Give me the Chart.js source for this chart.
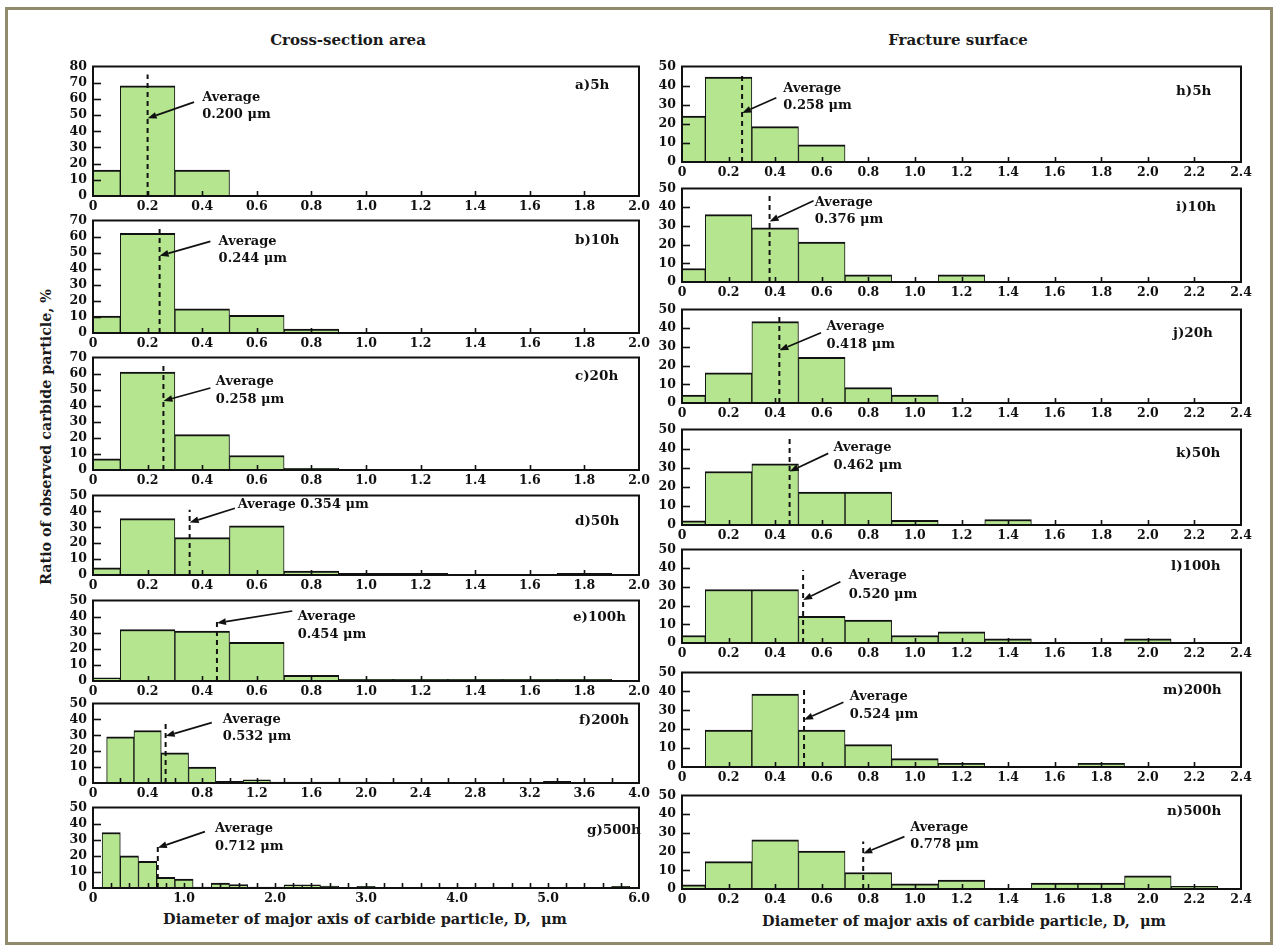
<!DOCTYPE html>
<html>
<head>
<meta charset="utf-8">
<title>Carbide particle size distributions</title>
<script src="https://cdn.jsdelivr.net/npm/chart.js@4.4.1/dist/chart.umd.min.js"></script>
<style>
  html, body { margin: 0; padding: 0; background: #fff; }
  #fig { position: relative; width: 1278px; height: 949px; overflow: hidden; background: #fff; }
  #frame { position: absolute; left: 5px; top: 7px; width: 1262px; height: 932px; border: 3px solid #8f8b6c; }
  .txt { position: absolute; font-family: 'DejaVu Serif', 'Liberation Serif', serif; font-weight: bold; color: #1a1a1a; white-space: nowrap; }
  canvas { position: absolute; }
</style>
</head>
<body>
<div id="fig">
  <div id="frame"></div>
  <div class="txt" style="left:348px; top:40px; font-size:15px; transform:translate(-50%,-50%);">Cross-section area</div>
  <div class="txt" style="left:958px; top:40px; font-size:15px; transform:translate(-50%,-50%);">Fracture surface</div>
  <div class="txt" style="left:365px; top:918px; font-size:14.5px; transform:translate(-50%,-50%);">Diameter of major axis of carbide particle, D,&nbsp; μm</div>
  <div class="txt" style="left:964px; top:920px; font-size:14.5px; transform:translate(-50%,-50%);">Diameter of major axis of carbide particle, D,&nbsp; μm</div>
  <div class="txt" style="left:46px; top:437px; font-size:14.3px; transform:translate(-50%,-50%) rotate(-90deg);">Ratio of observed carbide particle, %</div>
</div>
<script>
// Histogram bins: the first bin covers 0–0.1 µm, every later bin is 0.2 µm wide
// and centred on 0.2, 0.4, 0.6 ... µm. Values are percentages of particles.

// Cross-section area
const cross5h   = [16, 68, 16];
const cross10h  = [10.5, 62, 15, 11, 2.5];
const cross20h  = [7, 61, 22, 9, 1];
const cross50h  = [4.5, 35.5, 23.5, 31, 2.5, 1, 1, 0, 0, 1];
const cross100h = [2, 32, 31, 24, 3.5, 1, 1, 1, 1, 1];
const cross200h = [0, 29, 33, 19, 10, 1, 2, 0.6, 0.6, 0.6, 0.6, 0, 0, 0, 0, 0, 0, 1];
const cross500h = [0, 34.5, 20, 16.5, 6.6, 5.6, 0.6, 3, 2.2, 0.6, 0.6, 2, 2, 1.2, 0, 1,
                   0, 0, 0, 0, 0, 0, 0, 0, 0, 0, 0, 0, 0, 1];

// Fracture surface
const fract5h   = [24, 44.5, 18.5, 9];
const fract10h  = [7.2, 36, 29, 21.4, 3.8, 0, 3.8];
const fract20h  = [4.3, 16.2, 43.5, 24.4, 8.2, 4.3];
const fract50h  = [2.2, 28, 32, 17.3, 17.3, 2.5, 0, 2.9];
const fract100h = [4, 28.6, 28.6, 14.3, 12.2, 4, 6, 2.2, 0, 0, 2.2];
const fract200h = [0, 19.5, 38.6, 19.5, 11.8, 4.4, 2, 0, 0, 2];
const fract500h = [2.2, 14.6, 26.3, 20.3, 8.8, 2.7, 4.8, 0, 3.1, 3.1, 7, 1.4];

// Average major-axis diameters, µm
const crossAverages = [0.200, 0.244, 0.258, 0.354, 0.454, 0.532, 0.712];
const fractAverages = [0.258, 0.376, 0.418, 0.462, 0.520, 0.524, 0.778];

const crossLabels = ['a)5h', 'b)10h', 'c)20h', 'd)50h', 'e)100h', 'f)200h', 'g)500h'];
const fractLabels = ['h)5h', 'i)10h', 'j)20h', 'k)50h', 'l)100h', 'm)200h', 'n)500h'];

// ---- layout and styling -------------------------------------------------
const SERIF = "'DejaVu Serif', 'Liberation Serif', serif";
const INK = '#111111';
const FILL = '#b5e68f';
const PL = 40, PT = 10, PR = 20, PB = 22;

// plot boxes in page pixels, axis ranges, label offsets
const crossBoxes = [
  { y: 63,  h: 133, yMax: 80, xMax: 2, tag: [482, 19] },
  { y: 217, h: 116, yMax: 70, xMax: 2, tag: [482, 20] },
  { y: 354, h: 116, yMax: 70, xMax: 2, tag: [482, 19] },
  { y: 492, h: 83,  yMax: 50, xMax: 2, tag: [482, 26] },
  { y: 597, h: 84,  yMax: 50, xMax: 2, tag: [480, 17] },
  { y: 700, h: 83,  yMax: 50, xMax: 4, tag: [486, 17] },
  { y: 804, h: 84,  yMax: 50, xMax: 6, tag: [494, 23] }
];
const fractBoxes = [
  { y: 63,  h: 99, yMax: 50, xMax: 2.4, tag: [494, 25] },
  { y: 185, h: 97, yMax: 50, xMax: 2.4, tag: [494, 19] },
  { y: 306, h: 97, yMax: 50, xMax: 2.4, tag: [491, 24] },
  { y: 426, h: 99, yMax: 50, xMax: 2.4, tag: [494, 24] },
  { y: 546, h: 97, yMax: 50, xMax: 2.4, tag: [489, 17] },
  { y: 669, h: 98, yMax: 50, xMax: 2.4, tag: [481, 18] },
  { y: 792, h: 97, yMax: 50, xMax: 2.4, tag: [485, 16] }
];

// "Average" callouts, in axis units: text x, first/second line y,
// arrow tail, arrow head height, top of the dashed marker
const crossNotes = [
  { tx: 0.40, ty: [61, 50], from: [0.37, 58], toY: 48, top: 75 },
  { tx: 0.46, ty: [57, 46], from: [0.43, 57], toY: 48, top: 66 },
  { tx: 0.45, ty: [55, 44], from: [0.43, 51], toY: 43, top: 67 },
  { tx: 0.53, ty: [44],     from: [0.52, 42], toY: 33, top: 41 },
  { tx: 0.75, ty: [40, 29], from: [0.73, 43.5], toY: 36, top: 38 },
  { tx: 0.95, ty: [40, 29], from: [0.87, 38], toY: 29.5, top: 39 },
  { tx: 1.34, ty: [37, 26], from: [1.23, 35], toY: 25, top: 27.5 }
];
const fractNotes = [
  { tx: 0.435, ty: [38.6, 29.4], from: [0.405, 33.6], toY: 25.7, top: 47 },
  { tx: 0.57,  ty: [42.7, 33.5], from: [0.565, 43.5], toY: 32.4, top: 47 },
  { tx: 0.62,  ty: [41, 31],     from: [0.597, 37.6], toY: 28.2, top: 48 },
  { tx: 0.65,  ty: [40.4, 31],   from: [0.628, 37.5], toY: 28,   top: 47 },
  { tx: 0.716, ty: [36, 26],     from: [0.68, 32.8],  toY: 23,   top: 39 },
  { tx: 0.72,  ty: [37.4, 27.8], from: [0.693, 34.3], toY: 25,   top: 41.5 },
  { tx: 0.98,  ty: [33, 23.6],   from: [0.955, 28],   toY: 19,   top: 25.4 }
];

function tickText(xMax) {
  return function (value) {
    const tenth = Math.round(value * 10);
    if (tenth === 0) return '0';
    if (xMax === 4 && tenth % 4 !== 0) return '';
    if (xMax === 6 && tenth % 10 !== 0) return '';
    return (tenth / 10).toFixed(1);
  };
}

function arrow(ctx, x0, y0, x1, y1) {
  const ang = Math.atan2(y1 - y0, x1 - x0);
  const L = 9, W = 3.4;
  const bx = x1 - L * Math.cos(ang), by = y1 - L * Math.sin(ang);
  ctx.beginPath();
  ctx.moveTo(x0, y0);
  ctx.lineTo(bx, by);
  ctx.stroke();
  ctx.beginPath();
  ctx.moveTo(x1, y1);
  ctx.lineTo(bx + W * Math.sin(ang), by - W * Math.cos(ang));
  ctx.lineTo(bx - W * Math.sin(ang), by + W * Math.cos(ang));
  ctx.closePath();
  ctx.fill();
}

const fig = document.getElementById('fig');

function makePanel(left, width, box, values, avg, note, label) {
  const cv = document.createElement('canvas');
  const W = width + PL + PR, H = box.h + PT + PB;
  cv.width = W; cv.height = H;
  cv.style.left = (left - PL) + 'px';
  cv.style.top = (box.y - PT) + 'px';
  cv.style.width = W + 'px';
  cv.style.height = H + 'px';
  fig.appendChild(cv);

  const barStyle = {
    type: 'bar',
    backgroundColor: FILL,
    borderColor: INK,
    borderWidth: { top: 2, left: 1, right: 1, bottom: 0 },
    grouped: false,
    barThickness: 10
  };
  const firstBin = values[0] ? [{ x: 0.05, y: values[0] }] : [];
  const otherBins = values.slice(1).map((v, i) => ({ x: Math.round((i + 1) * 2) / 10, y: v ? v : null }));

  const decor = {
    id: 'panelDecor',
    afterDraw(chart) {
      const { ctx, chartArea: a, scales: { x, y } } = chart;
      ctx.save();
      ctx.strokeStyle = INK;
      ctx.fillStyle = INK;
      // inner tick marks
      ctx.lineWidth = 1.6;
      x.ticks.forEach(t => {
        if (t.value <= 0 || t.value >= box.xMax - 1e-9) return;
        const px = Math.round(x.getPixelForValue(t.value)) + 0.5;
        ctx.beginPath(); ctx.moveTo(px, a.bottom); ctx.lineTo(px, a.bottom - 5); ctx.stroke();
      });
      y.ticks.forEach(t => {
        if (t.value <= 0 || t.value >= box.yMax) return;
        const py = Math.round(y.getPixelForValue(t.value)) + 0.5;
        ctx.beginPath(); ctx.moveTo(a.left, py); ctx.lineTo(a.left + 8, py); ctx.stroke();
      });
      // plot frame
      ctx.lineWidth = 2;
      ctx.strokeRect(a.left, a.top, a.right - a.left, a.bottom - a.top);
      // callout arrow
      ctx.lineWidth = 1.7;
      arrow(ctx, x.getPixelForValue(note.from[0]), y.getPixelForValue(note.from[1]),
                 x.getPixelForValue(avg), y.getPixelForValue(note.toY));
      // callout text
      ctx.font = 'bold 13px ' + SERIF;
      ctx.textBaseline = 'middle';
      ctx.textAlign = 'left';
      const valueText = avg.toFixed(3) + ' μm';
      const lines = note.ty.length === 1 ? ['Average ' + valueText] : ['Average', valueText];
      lines.forEach((s, i) => ctx.fillText(s, x.getPixelForValue(note.tx), y.getPixelForValue(note.ty[i])));
      // panel tag
      ctx.font = 'bold 13.5px ' + SERIF;
      ctx.fillText(label, a.left + box.tag[0], a.top + box.tag[1]);
      ctx.restore();
    }
  };

  const tickFont = { family: SERIF, weight: 'bold', size: 12.5 };
  const chart = new Chart(cv, {
    type: 'bar',
    data: {
      datasets: [
        { type: 'line', data: [{ x: avg, y: 0 }, { x: avg, y: note.top }], borderColor: INK,
          borderWidth: 2, borderDash: [5, 4], pointRadius: 0, order: -1 },
        Object.assign({ data: firstBin }, barStyle),
        Object.assign({ data: otherBins }, barStyle)
      ]
    },
    options: {
      responsive: false,
      animation: false,
      devicePixelRatio: 1,
      layout: { padding: { top: PT, right: PR, left: 0, bottom: 0 } },
      plugins: { legend: { display: false }, tooltip: { enabled: false } },
      scales: {
        x: {
          type: 'linear', min: 0, max: box.xMax, offset: false,
          grid: { display: false, drawTicks: false }, border: { display: false },
          ticks: { stepSize: 0.2, autoSkip: false, maxRotation: 0, minRotation: 0, padding: 3,
                   color: INK, font: tickFont, callback: tickText(box.xMax) },
          afterFit(s) { s.height = PB; }
        },
        y: {
          min: 0, max: box.yMax,
          grid: { display: false, drawTicks: false }, border: { display: false },
          ticks: { stepSize: 10, autoSkip: false, padding: 6, color: INK, font: tickFont },
          afterFit(s) { s.width = PL; }
        }
      }
    },
    plugins: [decor]
  });

  // bar widths follow the x scale: 0.1 for the first bin, 0.2 for the others
  const sx = chart.scales.x;
  const w2 = sx.getPixelForValue(0.2) - sx.getPixelForValue(0);
  chart.data.datasets[1].barThickness = w2 / 2;
  chart.data.datasets[2].barThickness = w2;
  chart.update();
}

const crossSeries = [cross5h, cross10h, cross20h, cross50h, cross100h, cross200h, cross500h];
const fractSeries = [fract5h, fract10h, fract20h, fract50h, fract100h, fract200h, fract500h];

crossSeries.forEach((vals, i) =>
  makePanel(93, 546, crossBoxes[i], vals, crossAverages[i], crossNotes[i], crossLabels[i]));
fractSeries.forEach((vals, i) =>
  makePanel(682, 559, fractBoxes[i], vals, fractAverages[i], fractNotes[i], fractLabels[i]));
</script>
</body>
</html>
